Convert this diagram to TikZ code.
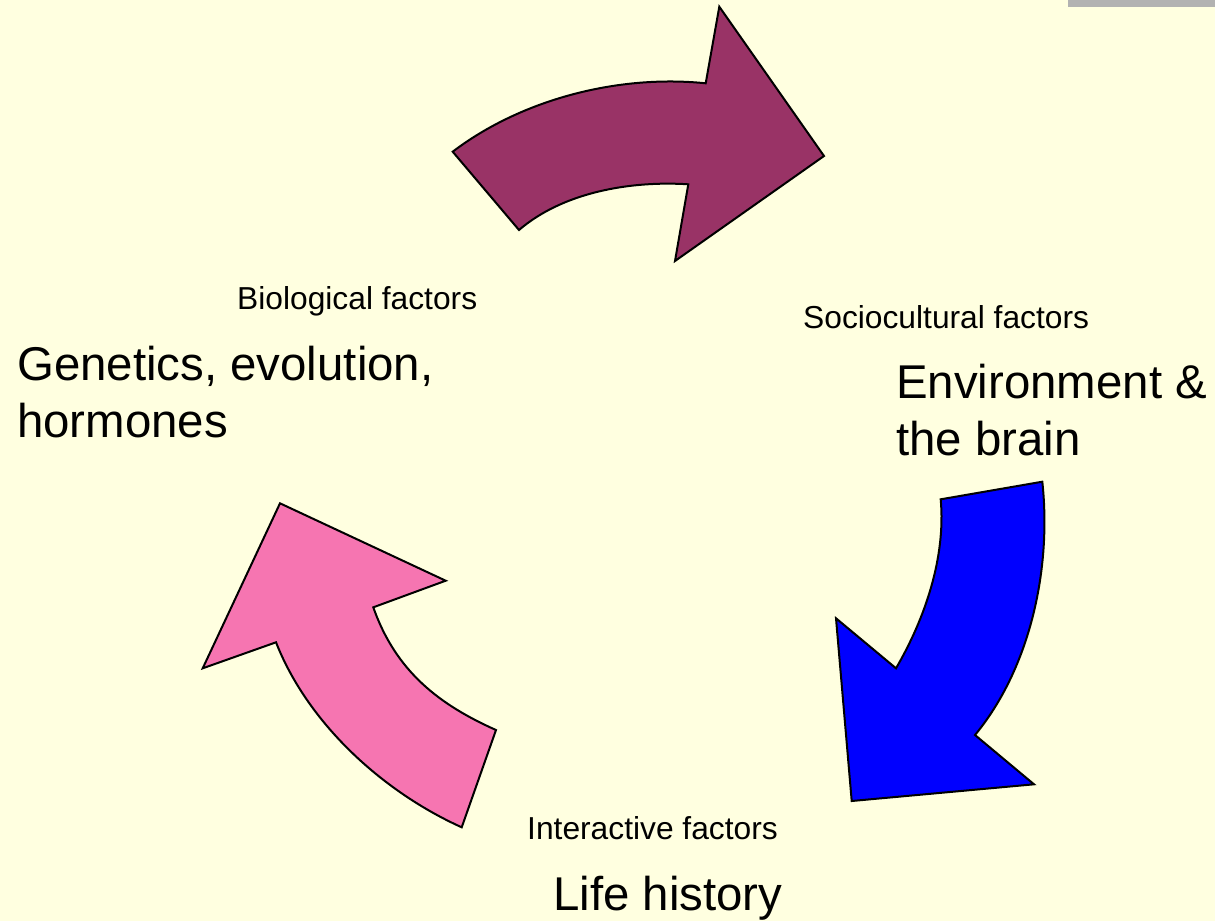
\documentclass[tikz,border=0pt]{standalone}
\usepackage{fontspec}
\setmainfont{Liberation Sans}
\usetikzlibrary{calc,positioning}
\definecolor{slidebg}{RGB}{255,255,224}
\definecolor{barcol}{RGB}{178,178,178}
\definecolor{biocol}{RGB}{153,51,102}
\definecolor{envcol}{RGB}{0,0,255}
\definecolor{lifecol}{RGB}{246,117,177}

\begin{document}
\begin{tikzpicture}[x=1pt,y=-1pt,
  bent/.style={draw=black,line width=2pt,line join=miter},
  small/.style={inner sep=0pt,anchor=base west,font=\fontsize{31.75}{38}\selectfont},
  big/.style={inner sep=0pt,anchor=base west,align=left,font=\fontsize{47.4}{57}\selectfont}]
\fill[slidebg] (0,0) rectangle (1215,921);
\useasboundingbox (0,0) rectangle (1215,921);
\fill[barcol] (1068,0) rectangle (1215,7);
% purple arrow (top)
\coordinate (A) at (452.7,151.7);
\coordinate (B) at (705.7,83.3);
\coordinate (C) at (688.3,184.3);
\coordinate (D) at (519,230);
\draw[bent,fill=biocol] (A) .. controls (522,99) and (619,74.3) .. (B)
  -- (719.3,6.7) -- (824,156) -- (675,261) -- (C)
  .. controls (630.3,180.6) and (563,192.2) .. (D) -- cycle;
% blue arrow (right)
\coordinate (E) at (940.7,499.3);
\coordinate (F) at (896,668.3);
\coordinate (G) at (975,735);
\coordinate (H) at (1042.3,481.7);
\draw[bent,fill=envcol] (H) -- (E) .. controls (945.9,557) and (925.2,618.2) .. (F)
  -- (836,618.3) -- (851.7,801) -- (1034,784.3) -- (G)
  .. controls (1030.4,667.9) and (1051.7,568.2) .. (H) -- cycle;
% pink arrow (left)
\coordinate (N) at (373.3,607.3);
\coordinate (P) at (496,730);
\coordinate (Q) at (461.7,827.3);
\coordinate (R) at (276,642.3);
\draw[bent,fill=lifecol] (280,503.3) -- (445.7,580.7) -- (N)
  .. controls (396,672) and (440,705) .. (P) -- (Q)
  .. controls (382.4,791.5) and (307.8,723.3) .. (R)
  -- (202.7,668.3) -- cycle;
% labels (base of a two-line node is its last line)
\node[small] (biolabel) at (237,309) {Biological factors};
\node[big] (biotext) at (17,437) {Genetics, evolution,\\hormones};
\node[small] (soclabel) at (803,328) {Sociocultural factors};
\node[big] (soctext) at (896,455) {Environment \&\\the brain};
\node[small] (intlabel) at (527,839) {Interactive factors};
\node[big] (inttext) at (553,910) {Life history};
\end{tikzpicture}
\end{document}
